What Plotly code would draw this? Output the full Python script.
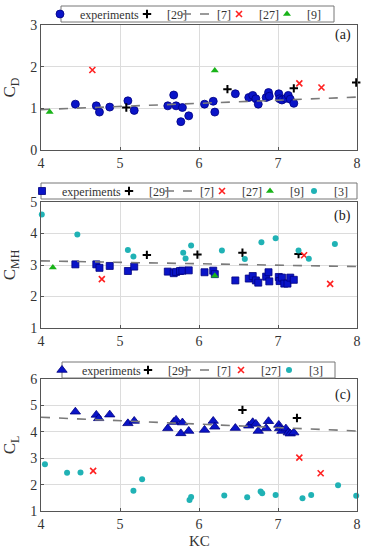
import plotly.graph_objects as go

# ---------------- Panel (a): C_D ----------------
kc_exp_a = [4.435, 4.70, 4.74, 4.87, 5.10, 5.18, 5.605, 5.68, 5.71, 5.79, 5.77, 5.87, 6.07, 6.18, 6.20,
            6.46, 6.63, 6.68, 6.72, 6.75, 6.85, 6.88, 6.89, 7.01, 7.02, 7.05, 7.10, 7.13, 7.155, 7.20]
cd_exp = [1.10, 1.06, 0.91, 1.03, 1.18, 0.95, 1.06, 1.32, 1.06, 1.02, 0.68, 0.82, 1.10, 1.17, 0.91,
          1.35, 1.26, 1.31, 1.23, 1.10, 1.26, 1.38, 1.29, 1.35, 1.23, 1.20, 1.24, 1.31, 1.22, 1.12]
kc29_a = [5.08, 6.36, 7.20, 7.99]
cd29 = [1.02, 1.46, 1.48, 1.62]
kc7_a = [4.0, 8.0]
cd7 = [0.97, 1.27]
kc27_a = [4.65, 7.27, 7.55]
cd27 = [1.92, 1.60, 1.50]
kc9_a = [4.11, 6.20]
cd9 = [0.91, 1.91]

# ---------------- Panel (b): C_MH ----------------
kc_exp_b = [4.435, 4.70, 4.74, 4.87, 5.10, 5.18, 5.605, 5.68, 5.71, 5.76, 5.79, 5.87, 6.07, 6.18, 6.20,
            6.46, 6.63, 6.68, 6.72, 6.75, 6.85, 6.88, 6.89, 7.01, 7.02, 7.05, 7.08, 7.12, 7.155, 7.20]
cmh_exp = [3.02, 3.02, 2.91, 2.97, 2.81, 2.95, 2.79, 2.74, 2.78, 2.81, 2.82, 2.83, 2.77, 2.82, 2.71,
           2.51, 2.57, 2.65, 2.51, 2.44, 2.63, 2.77, 2.48, 2.62, 2.49, 2.60, 2.41, 2.41, 2.60, 2.53]
kc29_b = [5.34, 5.98, 6.55, 7.26]
cmh29 = [3.32, 3.33, 3.39, 3.35]
kc7_b = [4.0, 8.0]
cmh7 = [3.13, 2.95]
kc27_b = [4.77, 7.33, 7.66]
cmh27 = [2.55, 3.31, 2.40]
kc9_b = [4.15, 6.20]
cmh9 = [2.92, 2.66]
kc3_b = [4.01, 4.46, 5.10, 5.17, 5.80, 5.83, 5.90, 6.29, 6.58, 6.79, 6.97, 7.26, 7.39, 7.72]
cmh3 = [4.60, 3.97, 3.48, 3.27, 3.39, 3.21, 3.62, 3.46, 3.19, 3.72, 3.85, 3.46, 3.20, 3.67]

# ---------------- Panel (c): C_L ----------------
kc_exp_c = [4.435, 4.70, 4.73, 4.87, 5.10, 5.18, 5.605, 5.68, 5.71, 5.79, 5.77, 5.87, 6.07, 6.18, 6.20,
            6.46, 6.63, 6.68, 6.72, 6.75, 6.85, 6.88, 7.01, 7.02, 7.05, 7.10, 7.13, 7.155, 7.20]
cl_exp = [4.76, 4.64, 4.51, 4.65, 4.32, 4.41, 4.13, 4.37, 4.45, 4.35, 3.94, 4.03, 4.07, 4.41, 4.19,
          4.14, 4.23, 4.36, 4.30, 4.03, 4.13, 4.40, 4.26, 4.13, 4.03, 4.12, 3.97, 3.93, 3.97]
kc29_c = [6.55, 7.24]
cl29 = [4.83, 4.52]
kc7_c = [4.0, 8.0]
cl7 = [4.55, 4.03]
kc27_c = [4.66, 7.27, 7.54]
cl27 = [2.52, 3.02, 2.43]
kc3_c = [4.05, 4.33, 4.50, 5.17, 5.28, 5.88, 5.90, 6.32, 6.61, 6.78, 6.80, 6.97, 7.31, 7.42, 7.76, 7.99]
cl3 = [2.77, 2.45, 2.46, 1.77, 2.20, 1.42, 1.53, 1.59, 1.52, 1.74, 1.67, 1.61, 1.48, 1.61, 1.98, 1.58]

FONT = "Liberation Serif, Times New Roman, serif"
BLUE = "#0a14c8"
CYAN = "#20b2b5"
RED = "#ff2020"
GREEN = "#19b319"
GRAY = "#7a7a7a"
TXT = "#333333"

W, H = 370, 550
L, R = 41, 13
PW = W - L - R
LEG_TEXT_OFFSET = 48

def ydom(top_px, bot_px):
    return [1 - bot_px / H, 1 - top_px / H]

fig = go.Figure()
legend_layouts = {}
leg_counter = [0]

def new_legend(text_left_px, center_px):
    leg_counter[0] += 1
    n = leg_counter[0]
    name = "legend" if n == 1 else f"legend{n}"
    legend_layouts[name] = dict(
        xref="container", yref="container",
        x=(text_left_px - LEG_TEXT_OFFSET) / W, y=1 - center_px / H,
        xanchor="left", yanchor="middle",
        orientation="h", bgcolor="rgba(0,0,0,0)", borderwidth=0,
        font=dict(family=FONT, size=12, color=TXT), itemwidth=30,
    )
    return name

def add_panel(idx, legend_center, text_lefts, exp_x, exp_y, exp_symbol, exp_size,
              x29, y29, x7, y7, x27, y27, x9=None, y9=None, x3=None, y3=None):
    xa = "x" if idx == 1 else f"x{idx}"
    ya = "y" if idx == 1 else f"y{idx}"
    tl = iter(text_lefts)
    common = dict(xaxis=xa, yaxis=ya, cliponaxis=False)
    fig.add_trace(go.Scatter(x=exp_x, y=exp_y, mode="markers", name="experiments",
                             marker=dict(symbol=exp_symbol, size=exp_size, color=BLUE,
                                         line=dict(color="#000080", width=0.8)),
                             legend=new_legend(next(tl), legend_center), **common))
    fig.add_trace(go.Scatter(x=x29, y=y29, mode="markers", name="[29]",
                             marker=dict(symbol="cross-thin", size=6, color="black",
                                         line=dict(color="black", width=2)),
                             legend=new_legend(next(tl), legend_center), **common))
    fig.add_trace(go.Scatter(x=x7, y=y7, mode="lines", name="[7]",
                             line=dict(color=GRAY, width=1.6, dash="dash"),
                             legend=new_legend(next(tl), legend_center), **common))
    fig.add_trace(go.Scatter(x=x27, y=y27, mode="markers", name="[27]",
                             marker=dict(symbol="x-thin", size=6, color=RED,
                                         line=dict(color=RED, width=1.6)),
                             legend=new_legend(next(tl), legend_center), **common))
    if x9 is not None:
        fig.add_trace(go.Scatter(x=x9, y=y9, mode="markers", name="[9]",
                                 marker=dict(symbol="triangle-up", size=7, color=GREEN),
                                 legend=new_legend(next(tl), legend_center), **common))
    if x3 is not None:
        fig.add_trace(go.Scatter(x=x3, y=y3, mode="markers", name="[3]",
                                 marker=dict(symbol="circle", size=6, color=CYAN),
                                 legend=new_legend(next(tl), legend_center), **common))

# text-left pixel positions of each legend entry (layout only)
add_panel(1, 14, [88, 175, 225, 267, 315],
          kc_exp_a, cd_exp, "circle", 8, kc29_a, cd29, kc7_a, cd7, kc27_a, cd27,
          x9=kc9_a, y9=cd9)
add_panel(2, 191, [70, 157, 208, 250, 298, 342],
          kc_exp_b, cmh_exp, "square", 7, kc29_b, cmh29, kc7_b, cmh7, kc27_b, cmh27,
          x9=kc9_b, y9=cmh9, x3=kc3_b, y3=cmh3)
add_panel(3, 370, [90, 176, 225, 269, 317],
          kc_exp_c, cl_exp, "triangle-up", 9, kc29_c, cl29, kc7_c, cl7, kc27_c, cl27,
          x3=kc3_c, y3=cl3)

axis_common = dict(range=[4, 8], dtick=1, showgrid=True, gridcolor="#dcdcdc", gridwidth=1,
                   showline=True, linecolor="#555555", linewidth=1, mirror=True,
                   ticks="inside", ticklen=3, tickcolor="#555555",
                   tickfont=dict(family=FONT, size=14, color=TXT), zeroline=False)

def yaxis_cfg(rng, title, dom, anchor):
    return dict(range=rng, dtick=1, domain=dom, anchor=anchor,
                showgrid=True, gridcolor="#dcdcdc", gridwidth=1,
                showline=True, linecolor="#555555", linewidth=1, mirror=True,
                ticks="inside", ticklen=3, tickcolor="#555555",
                tickfont=dict(family=FONT, size=14, color=TXT), zeroline=False,
                title=dict(text=title, font=dict(family=FONT, size=17, color=TXT), standoff=11))

fig.update_layout(
    width=W, height=H,
    margin=dict(l=L, r=R, t=0, b=0, autoexpand=False),
    plot_bgcolor="white", paper_bgcolor="white",
    showlegend=True,
    xaxis=dict(**axis_common, domain=[0, 1], anchor="y"),
    xaxis2=dict(**axis_common, domain=[0, 1], anchor="y2"),
    xaxis3=dict(**axis_common, domain=[0, 1], anchor="y3"),
    yaxis=yaxis_cfg([0, 3], "C<sub>D</sub>", ydom(25, 150), "x"),
    yaxis2=yaxis_cfg([1, 5], "C<sub>MH</sub>", ydom(202, 328), "x2"),
    yaxis3=yaxis_cfg([1, 6], "C<sub>L</sub>", ydom(379, 511), "x3"),
    **legend_layouts,
)

# legend frames
for left, right, top, bot in [(61, 334, 6, 22), (41, 357, 183, 199), (62, 335, 362, 378)]:
    fig.add_shape(type="rect", xref="paper", yref="paper",
                  x0=(left - L) / PW, x1=(right - L) / PW, y0=1 - bot / H, y1=1 - top / H,
                  line=dict(color="#777777", width=1), fillcolor="white", layer="above")

for txt, ypx in [("(a)", 35), ("(b)", 216), ("(c)", 395)]:
    fig.add_annotation(text=txt, xref="paper", yref="paper", x=1 - 4 / PW,
                       y=1 - ypx / H, xanchor="right", yanchor="middle", showarrow=False,
                       font=dict(family=FONT, size=14, color="#222222"))

# x-axis title of the bottom panel
fig.add_annotation(text="KC", xref="paper", yref="paper", x=0.5, y=1 - 541 / H,
                   xanchor="center", yanchor="middle", showarrow=False,
                   font=dict(family=FONT, size=15, color=TXT))

fig.write_html("out.html", config={"displayModeBar": False},
               post_script="document.body.style.margin='0';")
